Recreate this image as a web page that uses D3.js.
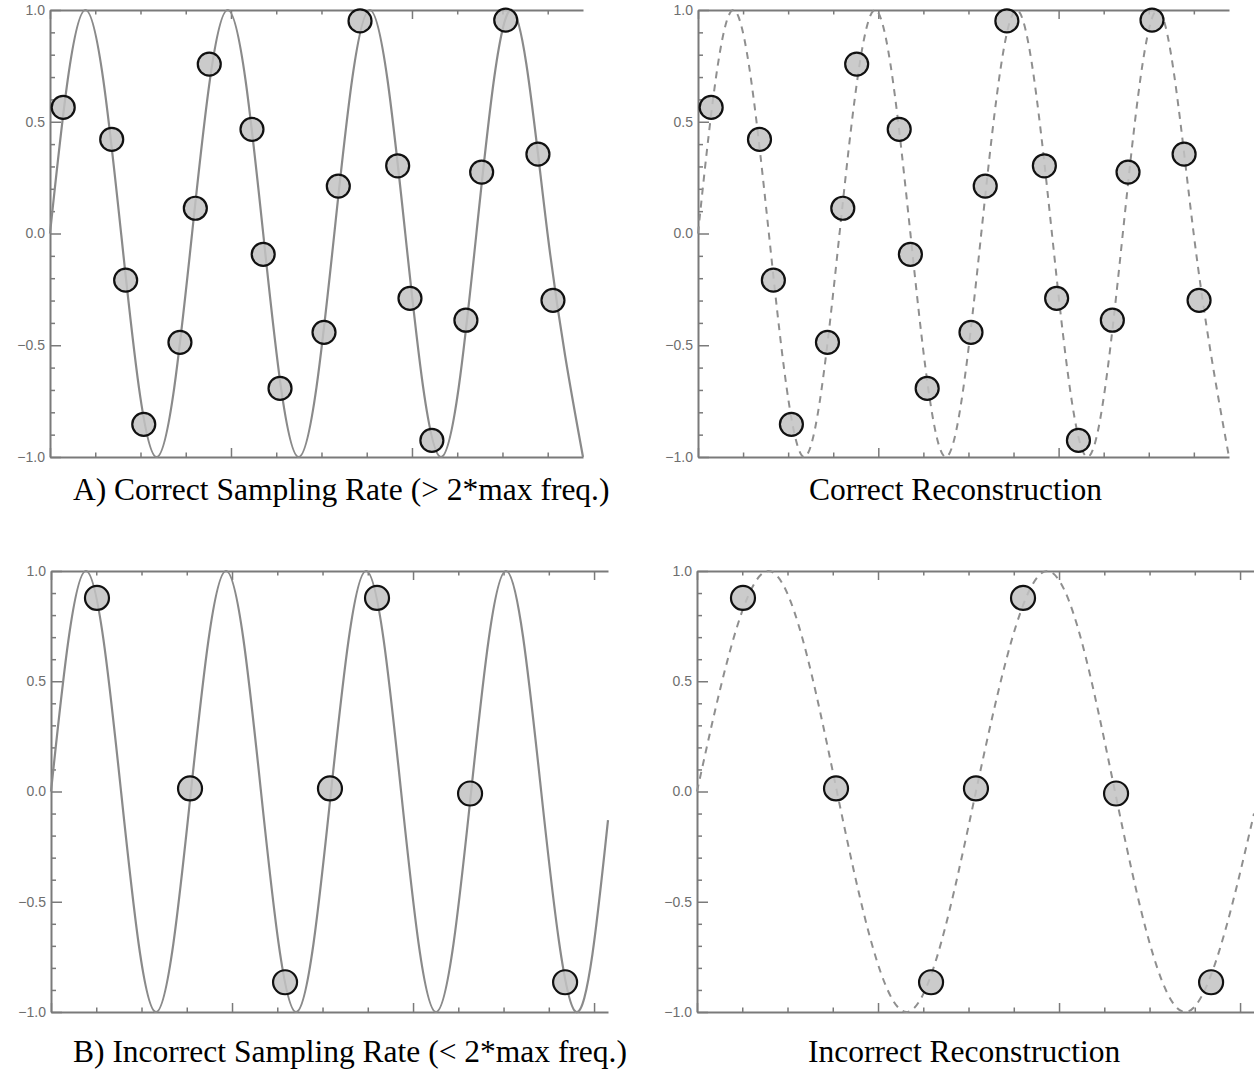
<!DOCTYPE html>
<html>
<head>
<meta charset="utf-8">
<script src="https://cdn.jsdelivr.net/npm/d3@7"></script>
<style>
  html, body { margin: 0; padding: 0; background: #fff; }
  svg { display: block; }
</style>
</head>
<body>
<svg id="chart" width="1254" height="1076"></svg>
<script>
// ---------------- DATA ----------------
// y-axis ticks
const yTickValues = [-1.0, -0.5, 0.0, 0.5, 1.0];
const yMinorValues = [-0.9,-0.8,-0.7,-0.6,-0.4,-0.3,-0.2,-0.1,0.1,0.2,0.3,0.4,0.6,0.7,0.8,0.9];
const xMajorValues = [0, 1, 2, 3];
const xMinorValues = [0.25,0.5,0.75,1.25,1.5,1.75,2.25,2.5,2.75];

// x extent of each row (time units)
const topDomain = [0, 2.945];
const bottomDomain = [0, 3.077];

// Original signal, top row (nodes at zeros / peaks / troughs)
const topWaveT = [0, 0.196, 0.393, 0.589, 0.785, 0.982, 1.178, 1.374, 1.571, 1.767, 1.963, 2.160, 2.356, 2.553, 2.749, 2.945];
const topWaveV = [0, 1, 0, -1, 0, 1, 0, -1, 0, 1, 0, -1, 0, 1, 0, -1];

// Samples, top row (correct sampling rate)
const topSampleT = [0.073, 0.341, 0.418, 0.518, 0.718, 0.803, 0.880, 1.116, 1.178, 1.271, 1.514, 1.593, 1.713, 1.921, 1.989, 2.110, 2.298, 2.385, 2.518, 2.696, 2.779];
const topSampleV = [0.564, 0.421, -0.209, -0.854, -0.487, 0.113, 0.758, 0.466, -0.093, -0.693, -0.442, 0.212, 0.951, 0.303, -0.290, -0.926, -0.388, 0.275, 0.955, 0.355, -0.299];

// Original signal, bottom row
const bottomWaveT = [0, 0.193, 0.387, 0.580, 0.773, 0.967, 1.160, 1.354, 1.547, 1.741, 1.934, 2.127, 2.321, 2.514, 2.708, 2.901, 3.077];
const bottomWaveV = [0, 1, 0, -1, 0, 1, 0, -1, 0, 1, 0, -1, 0, 1, 0, -1, -0.13];

// Aliased reconstruction, bottom right
const aliasWaveT = [0, 0.395, 0.773, 1.157, 1.541, 1.935, 2.309, 2.690, 3.077];
const aliasWaveV = [0, 1, 0, -1, 0, 1, 0, -1, -0.10];

// Samples, bottom row (incorrect sampling rate)
const bottomSampleT = [0.254, 0.768, 1.293, 1.541, 1.801, 2.315, 2.840];
const bottomSampleV = [0.878, 0.014, -0.865, 0.014, 0.878, -0.009, -0.865];

// Captions
const captions = [
  "A) Correct Sampling Rate (> 2*max freq.)",
  "Correct Reconstruction",
  "B) Incorrect Sampling Rate (< 2*max freq.)",
  "Incorrect Reconstruction"
];

// ---------------- LAYOUT ----------------
const zip = (a, b) => a.map((v, i) => [v, b[i]]);
const panels = [
  { x0: 50,  x1: 583,  y0: 10,  y1: 457,  domain: topDomain,    wave: zip(topWaveT, topWaveV),       samples: zip(topSampleT, topSampleV),       dashed: false, r: 11.5, caption: captions[0], cx: 73,  cy: 500 },
  { x0: 698, x1: 1229, y0: 10,  y1: 457,  domain: topDomain,    wave: zip(topWaveT, topWaveV),       samples: zip(topSampleT, topSampleV),       dashed: true,  r: 11.5, caption: captions[1], cx: 809, cy: 500 },
  { x0: 51,  x1: 608,  y0: 571, y1: 1012, domain: bottomDomain, wave: zip(bottomWaveT, bottomWaveV), samples: zip(bottomSampleT, bottomSampleV), dashed: false, r: 12,   caption: captions[2], cx: 73,  cy: 1062 },
  { x0: 697, x1: 1254, y0: 571, y1: 1012, domain: bottomDomain, wave: zip(aliasWaveT, aliasWaveV),   samples: zip(bottomSampleT, bottomSampleV), dashed: true,  r: 12,   caption: captions[3], cx: 808, cy: 1062 }
];

const svg = d3.select("#chart");
const axisColor = "#7a7a7a";
const fmt = d3.format(".1f");

panels.forEach((p, i) => {
  const x = d3.scaleLinear().domain(p.domain).range([p.x0, p.x1]);
  const y = d3.scaleLinear().domain([-1, 1]).range([p.y1, p.y0]);
  const g = svg.append("g").attr("class", "panel panel-" + i);

  const inDom = v => v >= p.domain[0] && v <= p.domain[1];
  const xMaj = xMajorValues.filter(inDom);
  const xMin = xMinorValues.filter(inDom);

  const styleAxis = (sel, showDomain) => {
    sel.select(".domain").attr("stroke", showDomain ? axisColor : "none").attr("stroke-width", 2);
    sel.selectAll(".tick line").attr("stroke", axisColor).attr("stroke-width", 1.5);
  };

  // bottom axis
  g.append("g").attr("transform", `translate(0,${p.y1})`)
    .call(d3.axisBottom(x).tickValues(xMaj).tickSize(-9).tickSizeOuter(0).tickFormat(""))
    .call(s => styleAxis(s, true));
  g.append("g").attr("transform", `translate(0,${p.y1})`)
    .call(d3.axisBottom(x).tickValues(xMin).tickSize(-4.5).tickSizeOuter(0).tickFormat(""))
    .call(s => styleAxis(s, false));
  // top axis
  g.append("g").attr("transform", `translate(0,${p.y0})`)
    .call(d3.axisTop(x).tickValues(xMaj).tickSize(-9).tickSizeOuter(0).tickFormat(""))
    .call(s => styleAxis(s, true));
  g.append("g").attr("transform", `translate(0,${p.y0})`)
    .call(d3.axisTop(x).tickValues(xMin).tickSize(-4.5).tickSizeOuter(0).tickFormat(""))
    .call(s => styleAxis(s, false));
  // left axis
  const la = g.append("g").attr("transform", `translate(${p.x0},0)`)
    .call(d3.axisLeft(y).tickValues(yTickValues).tickSize(-11).tickSizeOuter(0).tickPadding(5).tickFormat(fmt))
    .call(s => styleAxis(s, true));
  la.selectAll(".tick text")
    .attr("fill", "#6e6e6e")
    .style("font-family", "'Liberation Sans', Arial, sans-serif")
    .style("font-size", "14px");
  g.append("g").attr("transform", `translate(${p.x0},0)`)
    .call(d3.axisLeft(y).tickValues(yMinorValues).tickSize(-5).tickSizeOuter(0).tickFormat(""))
    .call(s => styleAxis(s, false));

  // signal curve
  const line = d3.line().x(d => x(d[0])).y(d => y(d[1])).curve(d3.curveNatural);
  g.append("path")
    .datum(p.wave)
    .attr("d", line)
    .attr("fill", "none")
    .attr("stroke", p.dashed ? "#8f8f8f" : "#8a8a8a")
    .attr("stroke-width", p.dashed ? 2 : 2.2)
    .attr("stroke-dasharray", p.dashed ? "7,6" : null);

  // samples
  g.append("g").selectAll("circle")
    .data(p.samples)
    .join("circle")
    .attr("cx", d => x(d[0]))
    .attr("cy", d => y(d[1]))
    .attr("r", p.r)
    .attr("fill", "#c2c2c2")
    .attr("fill-opacity", 0.85)
    .attr("stroke", "#111")
    .attr("stroke-width", 2.2);

  // caption
  svg.append("text")
    .attr("x", p.cx)
    .attr("y", p.cy)
    .attr("fill", "#000")
    .style("font-family", "'Liberation Serif', 'Times New Roman', serif")
    .style("font-size", "31.5px")
    .text(p.caption);
});
</script>
</body>
</html>
